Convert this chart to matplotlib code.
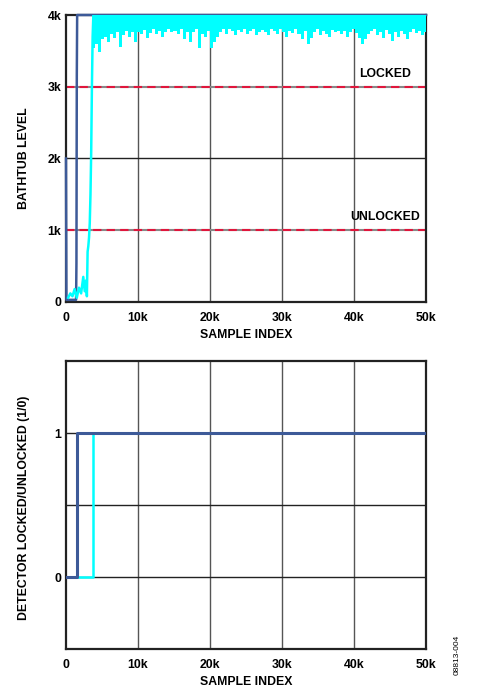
import numpy as np
import matplotlib
matplotlib.use("Agg")
import matplotlib.pyplot as plt

plt.rcParams['font.family'] = ['Liberation Sans', 'DejaVu Sans']
plt.rcParams['font.weight'] = 'bold'

BLUE = '#3d5a98'
CYAN = '#00ffff'
RED = '#e0163c'

# dark blue bathtub trace (first detector)
blue_x = [0, 60, 1400, 1450, 1500, 1550, 50000]
blue_y = [2000, 30, 30, 540, 3150, 4000, 4000]

# cyan bathtub trace, start-up part
cyan_x = [300, 600, 900, 1200, 1500, 1800, 2100, 2400, 2600, 2800, 2900, 3000,
          3100, 3200, 3300, 3400, 3500, 3600, 3700, 3800]
cyan_y = [60, 120, 80, 180, 60, 200, 120, 350, 150, 300, 80, 700,
          780, 900, 1100, 1500, 2100, 3000, 3700, 4000]

# cyan locked part: lower edge of the noise band (upper edge saturates at 4k)
cyan_env = [3540, 3600, 3480, 3660, 3700, 3620, 3740, 3680, 3760, 3560, 3720, 3780,
            3700, 3760, 3620, 3770, 3730, 3790, 3680, 3750, 3800, 3740, 3780, 3700,
            3770, 3810, 3760,
            3780, 3740, 3800, 3670, 3760, 3620, 3770, 3800, 3540, 3740, 3690, 3780,
            3540, 3630, 3700, 3770, 3800, 3740, 3810, 3780, 3720, 3790, 3760, 3810,
            3740, 3780, 3800, 3720, 3770, 3790,
            3760, 3720, 3800, 3780, 3740, 3810, 3770, 3700, 3780, 3750, 3800, 3740,
            3660, 3780, 3590, 3680, 3770, 3800, 3720, 3780, 3740, 3700, 3790, 3760,
            3780,
            3740, 3780, 3700, 3760, 3800, 3750, 3680, 3600, 3660, 3740, 3780, 3800,
            3720, 3770, 3680, 3790, 3740, 3640, 3770, 3700, 3780, 3740, 3660, 3760,
            3800, 3750, 3780, 3720, 3770]
env_x = np.linspace(3800, 50000, len(cyan_env))

# detector outputs
det_blue_x = [0, 1500, 1500, 50000]
det_blue_y = [0, 0, 1, 1]
det_cyan_x = [0, 3750, 3750, 50000]
det_cyan_y = [0, 0, 1, 1]

xticks = [0, 10000, 20000, 30000, 40000, 50000]
xlabels = ['0', '10k', '20k', '30k', '40k', '50k']

fig = plt.figure(figsize=(4.86, 6.94), dpi=100)
ax1 = fig.add_axes([66/486, 1 - 302/694, 360/486, 287/694])
ax2 = fig.add_axes([66/486, 1 - 649/694, 360/486, 288/694])

for ax in (ax1, ax2):
    ax.set_xlim(0, 50000)
    ax.set_xticks(xticks)
    ax.set_xticklabels(xlabels)
    ax.tick_params(length=0, labelsize=8.8)
    ax.tick_params(axis='x', pad=7.5)
    ax.tick_params(axis='y', pad=3.5)
    for x in xticks[1:-1]:
        ax.axvline(x, color='#555555', lw=1, zorder=1)
    for s in ax.spines.values():
        s.set_linewidth(1.6)
        s.set_color('#222222')
    ax.set_xlabel('SAMPLE INDEX', fontsize=8.8, fontweight='bold', labelpad=3.5)

# top plot
ax1.set_ylim(0, 4000)
ax1.set_yticks([0, 1000, 2000, 3000, 4000])
ax1.set_yticklabels(['0', '1k', '2k', '3k', '4k'])
ax1.axhline(2000, color='#222222', lw=1, zorder=1)
for y in (1000, 3000):
    ax1.axhline(y, color='#888888', lw=1.5, zorder=2)
    ax1.axhline(y, color=RED, lw=1.5, ls=(0, (4, 2.5)), zorder=2.1)
ax1.plot(blue_x, blue_y, color=BLUE, lw=1.8, zorder=3, clip_on=False)
ax1.plot(cyan_x, cyan_y, color=CYAN, lw=1.8, zorder=4)
ax1.fill_between(env_x, cyan_env, 4000, step='mid', color=CYAN, lw=0, zorder=4)
ax1.set_ylabel('BATHTUB LEVEL', fontsize=8.8, fontweight='bold')
ax1.yaxis.set_label_coords(-0.1, 0.5)
ax1.text(44300, 3180, 'LOCKED', fontsize=8.8, fontweight='bold', ha='center', va='center')
ax1.text(44300, 1180, 'UNLOCKED', fontsize=8.8, fontweight='bold', ha='center', va='center')

# bottom plot
ax2.set_ylim(-0.5, 1.5)
ax2.set_yticks([0, 1])
ax2.set_yticklabels(['0', '1'])
for y in (0, 0.5, 1):
    ax2.axhline(y, color='#222222', lw=1, zorder=1)
ax2.plot(det_cyan_x, det_cyan_y, color=CYAN, lw=1.8, zorder=3)
ax2.plot(det_blue_x, det_blue_y, color=BLUE, lw=2.2, zorder=4)
ax2.set_ylabel('DETECTOR LOCKED/UNLOCKED (1/0)', fontsize=8.8, fontweight='bold')
ax2.yaxis.set_label_coords(-0.1, 0.49)

fig.text(457/486, 1 - 655/694, '08813-004', fontsize=6, fontweight='normal',
         rotation=90, ha='center', va='center')

fig.savefig('out.png', dpi=100)
